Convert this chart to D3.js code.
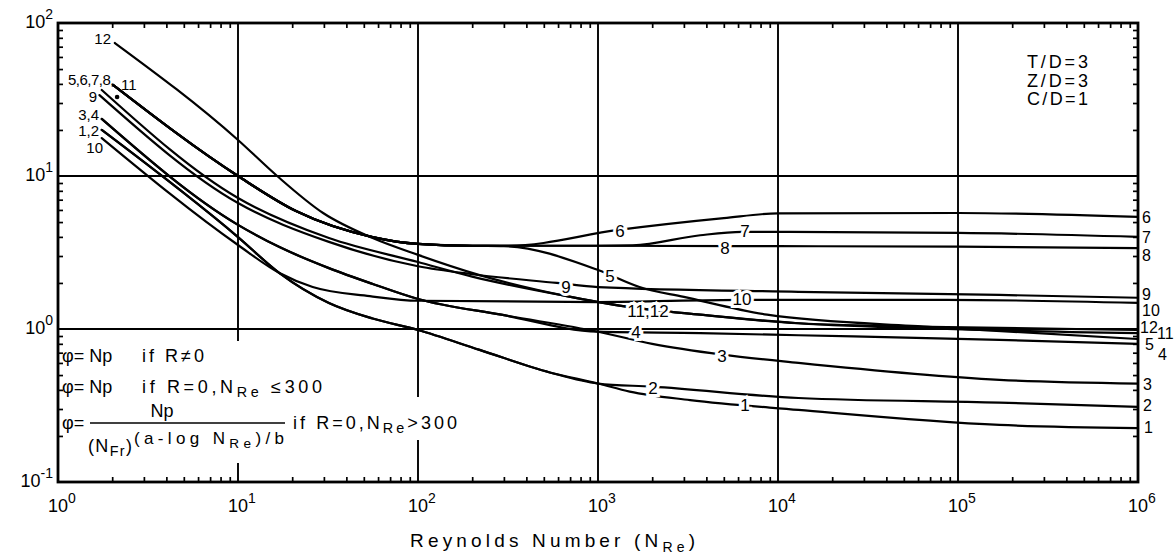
<!DOCTYPE html>
<html>
<head>
<meta charset="utf-8">
<script src="https://cdn.jsdelivr.net/npm/d3@7"></script>
<style>
  body { margin: 0; background: #fff; }
  text { font-family: "Liberation Sans", Arial, sans-serif; fill: #000; white-space: pre; }
</style>
</head>
<body>
<script>
// [Re, phi]
var curve1 = [[1.75, 20.0], [10, 3.99], [17, 2.32], [32, 1.48], [56, 1.17], [100, 0.985], [220, 0.73], [540, 0.52], [1000, 0.44], [1500, 0.39], [3250, 0.343], [13000, 0.296], [170000, 0.236], [1e6, 0.225]];
var curve2 = [[1.75, 20.0], [10, 3.99], [17, 2.32], [32, 1.48], [56, 1.17], [100, 0.985], [220, 0.73], [540, 0.52], [1000, 0.44], [2000, 0.42], [13000, 0.354], [170000, 0.33], [1e6, 0.31]];
var curve3 = [[1.75, 23.6], [10, 4.79], [17, 3.43], [32, 2.5], [56, 1.97], [100, 1.57], [290, 1.24], [1000, 0.96], [2000, 0.80], [4900, 0.68], [13000, 0.60], [170000, 0.465], [1e6, 0.44]];
var curve4 = [[1.75, 23.6], [10, 4.79], [17, 3.43], [32, 2.5], [56, 1.97], [100, 1.57], [290, 1.24], [1000, 0.96], [3700, 0.94], [13000, 0.91], [170000, 0.85], [1e6, 0.80]];
var curve5 = [[2.02, 39.4], [10, 10], [21, 5.9], [56, 3.99], [100, 3.6], [200, 3.5], [300, 3.48], [1000, 2.43], [1700, 1.88], [3000, 1.62], [8700, 1.24], [72000, 1.03], [1e6, 0.86]];
var curve6 = [[2.02, 39.4], [10, 10], [21, 5.9], [56, 3.99], [100, 3.6], [200, 3.5], [320, 3.5], [1300, 4.44], [5000, 5.3], [10000, 5.7], [100000, 5.73], [1e6, 5.4]];
var curve7 = [[2.02, 39.4], [10, 10], [21, 5.9], [56, 3.99], [100, 3.6], [200, 3.5], [1000, 3.5], [1560, 3.52], [3700, 4.1], [6300, 4.31], [100000, 4.25], [1e6, 4.0]];
var curve8 = [[2.02, 39.4], [10, 10], [21, 5.9], [56, 3.99], [100, 3.6], [200, 3.5], [1000, 3.5], [10000, 3.48], [100000, 3.45], [1e6, 3.38]];
var curve9 = [[1.7, 33.8], [10, 6.66], [32, 3.71], [100, 2.57], [200, 2.28], [590, 2.0], [1000, 1.88], [13000, 1.75], [170000, 1.67], [1e6, 1.60]];
var curve10 = [[1.75, 17.7], [10, 3.54], [17, 2.32], [26, 1.88], [54, 1.64], [100, 1.53], [1000, 1.5], [6400, 1.55], [86000, 1.55], [1e6, 1.48]];
var curve11 = [[1.75, 36.5], [10, 7.18], [32, 3.93], [100, 2.74], [200, 2.2], [670, 1.64], [1500, 1.39], [3700, 1.24], [13000, 1.09], [87000, 1.0], [1e6, 0.94]];
var curve12 = [[2.07, 74], [10, 17.2], [16.5, 10], [29.7, 5.73], [56, 3.93], [100, 3.05], [220, 2.25], [670, 1.64], [1500, 1.39], [3700, 1.24], [13000, 1.09], [87000, 1.03], [1e6, 0.985]];

var curveNames = ['1', '2', '3', '4', '5', '6', '7', '8', '9', '10', '11', '12'];
var curveData = [curve1, curve2, curve3, curve4, curve5, curve6, curve7, curve8, curve9, curve10, curve11, curve12];

var xDecades = [1, 10, 100, 1e3, 1e4, 1e5, 1e6];
var xExponents = ['0', '1', '2', '3', '4', '5', '6'];
var yDecades = [0.1, 1, 10, 100];
var yExponents = ['-1', '0', '1', '2'];
var xGrid = [10, 100, 1e3, 1e4, 1e5];
var yGrid = [1, 10];

// inline labels sitting on the curves: [text, Re, phi]
var inlineLabels = [['6', 1325, 4.37], ['7', 6560, 4.37], ['8', 5080, 3.38], ['5', 1166, 2.22], ['9', 664, 1.88],
  ['10', 6310, 1.57], ['11,12', 1896, 1.31], ['4', 1626, 0.955], ['3', 4890, 0.667], ['2', 2020, 0.411], ['1', 6560, 0.318]];
// labels at the right end of each curve: [text, curve index, dx, dy]
var endLabels = [['6', 5, 4, 1], ['7', 6, 4, 1], ['8', 7, 4, 8], ['9', 8, 4, -3], ['10', 9, 4, 8], ['12', 11, 2, -2],
  ['11', 10, 19, 1], ['5', 4, 7, 6], ['4', 3, 20, 11], ['3', 2, 5, 1], ['2', 1, 5, -1], ['1', 0, 6, 0]];
var paramLines = ['T/D=3', 'Z/D=3', 'C/D=1'];

var width = 1175, height = 555;
var svg = d3.select('body').append('svg').attr('width', width).attr('height', height);
svg.append('rect').attr('width', width).attr('height', height).attr('fill', '#fff');

var x = d3.scaleLog().domain([1, 1e6]).range([58, 1138]);
var y = d3.scaleLog().domain([0.1, 100]).range([482, 23]);

// grid
svg.append('g').selectAll('line').data(xGrid).enter().append('line')
    .attr('x1', d => x(d)).attr('x2', d => x(d))
    .attr('y1', y(100)).attr('y2', y(0.1))
    .attr('stroke', '#000').attr('stroke-width', 1.9);
svg.append('g').selectAll('line').data(yGrid).enter().append('line')
    .attr('x1', x(1)).attr('x2', x(1e6))
    .attr('y1', d => y(d)).attr('y2', d => y(d))
    .attr('stroke', '#000').attr('stroke-width', 1.9);

// the formula block hides the grid behind it
svg.append('rect').attr('x', 61).attr('y', 341).attr('width', 270).attr('height', 122).attr('fill', '#fff');
svg.append('rect').attr('x', 285).attr('y', 397).attr('width', 178).attr('height', 43).attr('fill', '#fff');

// minor ticks, pointing inward
var minorX = [], minorY = [];
xDecades.slice(0, -1).forEach(function (d) { for (var k = 2; k < 10; k++) minorX.push(d * k); });
yDecades.slice(0, -1).forEach(function (d) { for (var k = 2; k < 10; k++) minorY.push(d * k); });

function styleAxis(g) {
    g.select('.domain').remove();
    g.selectAll('line').attr('stroke', '#000').attr('stroke-width', 1.7);
}
svg.append('g').attr('transform', 'translate(0,' + y(0.1) + ')')
    .call(d3.axisBottom(x).tickValues(minorX).tickSize(-5).tickFormat('')).call(styleAxis);
svg.append('g').attr('transform', 'translate(0,' + y(100) + ')')
    .call(d3.axisTop(x).tickValues(minorX).tickSize(-5).tickFormat('')).call(styleAxis);
svg.append('g').attr('transform', 'translate(' + x(1) + ',0)')
    .call(d3.axisLeft(y).tickValues(minorY).tickSize(-5).tickFormat('')).call(styleAxis);
svg.append('g').attr('transform', 'translate(' + x(1e6) + ',0)')
    .call(d3.axisRight(y).tickValues(minorY).tickSize(-5).tickFormat('')).call(styleAxis);

svg.append('rect')
    .attr('x', x(1)).attr('y', y(100))
    .attr('width', x(1e6) - x(1)).attr('height', y(0.1) - y(100))
    .attr('fill', 'none').attr('stroke', '#000').attr('stroke-width', 2.8);

// tick labels 10^n
function powerLabel(sel, exp) {
    sel.append('tspan').text('10');
    sel.append('tspan').attr('dy', -9).attr('font-size', 14).text(exp);
}
svg.append('g').selectAll('text').data(xDecades).enter().append('text')
    .attr('x', d => x(d) - 10).attr('y', 512)
    .attr('font-size', 18)
    .each(function (d, i) { powerLabel(d3.select(this), xExponents[i]); });
svg.append('g').selectAll('text').data(yDecades).enter().append('text')
    .attr('x', 53).attr('y', d => y(d) + 5)
    .attr('text-anchor', 'end').attr('font-size', 18)
    .each(function (d, i) { powerLabel(d3.select(this), yExponents[i]); });

// curves
var line = d3.line()
    .x(d => x(d[0]))
    .y(d => y(d[1]))
    .curve(d3.curveMonotoneX);
svg.append('g').attr('class', 'curves').selectAll('path').data(curveData).enter().append('path')
    .attr('d', line)
    .attr('fill', 'none')
    .attr('stroke', '#000')
    .attr('stroke-width', 2.2)
    .attr('stroke-linecap', 'round');

// labels along the curves, with a white halo that breaks the line
svg.append('g').selectAll('text').data(inlineLabels).enter().append('text')
    .attr('x', d => x(d[1])).attr('y', d => y(d[2]) + 6)
    .attr('text-anchor', 'middle').attr('font-size', 17)
    .attr('stroke', '#fff').attr('stroke-width', 6).attr('paint-order', 'stroke')
    .text(d => d[0]);

svg.append('g').selectAll('text').data(endLabels).enter().append('text')
    .attr('x', d => x(1e6) + d[2])
    .attr('y', function (d) { var c = curveData[d[1]]; return y(c[c.length - 1][1]) + d[3] + 5; })
    .attr('font-size', 16)
    .text(d => d[0]);

// labels at the left ends
var leftLabels = [['12', 111, 44, 'end'], ['5,6,7,8,', 114, 85, 'end'], ['11', 121, 90, 'start'], ['9', 97, 102, 'end'],
    ['3,4', 99, 120, 'end'], ['1,2', 99, 136, 'end'], ['10', 103, 153, 'end']];
svg.append('g').selectAll('text').data(leftLabels).enter().append('text')
    .attr('x', d => d[1]).attr('y', d => d[2])
    .attr('text-anchor', d => d[3]).attr('font-size', 15)
    .attr('letter-spacing', d => d[0].length > 4 ? -0.5 : 0)
    .text(d => d[0]);
svg.append('circle').attr('cx', x(2.13)).attr('cy', y(32.8)).attr('r', 2.3).attr('fill', '#000');

// parameters top right
svg.append('g').selectAll('text').data(paramLines).enter().append('text')
    .attr('x', 1027).attr('y', (d, i) => 68 + i * 18.5)
    .attr('font-size', 18).attr('textLength', 61).attr('lengthAdjust', 'spacing')
    .text(d => d);

// axis title
var title = svg.append('text').attr('x', 410).attr('y', 547).attr('font-size', 19)
    .attr('textLength', 285).attr('lengthAdjust', 'spacing');
title.append('tspan').text('Reynolds Number (N');
title.append('tspan').attr('dy', 5).attr('font-size', 14).text('Re');
title.append('tspan').attr('dy', -5).text(')');

// formula block
function richText(x0, y0, parts, size, len) {
    var t = svg.append('text').attr('x', x0).attr('y', y0).attr('font-size', size);
    if (len) t.attr('textLength', len).attr('lengthAdjust', 'spacing');
    var shift = 0;
    parts.forEach(function (p) {
        var target = p[1] === 'sub' ? 4 : (p[1] === 'sup' ? -8 : 0);
        t.append('tspan').attr('dy', target - shift)
            .attr('font-size', p[1] === 'n' ? size : size * 0.8).text(p[0]);
        shift = target;
    });
    return t;
}
richText(62, 362, [['φ= Np', 'n']], 18);
richText(142, 362, [['if R≠0', 'n']], 18, 62);
richText(62, 393, [['φ= Np', 'n']], 18);
richText(142, 393, [['if R=0,N', 'n'], ['Re', 'sub'], [' ≤300', 'n']], 18, 180);
richText(62, 429, [['φ=', 'n']], 18);
richText(162, 417, [['Np', 'n']], 18).attr('text-anchor', 'middle');
svg.append('line').attr('x1', 90).attr('x2', 285).attr('y1', 423).attr('y2', 423)
    .attr('stroke', '#000').attr('stroke-width', 1.7);
richText(88, 452, [['(N', 'n'], ['Fr', 'sub'], [')', 'n']], 18, 44);
richText(134, 444, [['(a-log N', 'n'], ['Re', 'sub'], [')/b', 'n']], 17, 150);
richText(293, 429, [['if R=0,N', 'n'], ['Re', 'sub'], ['>300', 'n']], 18, 164);
</script>
</body>
</html>
